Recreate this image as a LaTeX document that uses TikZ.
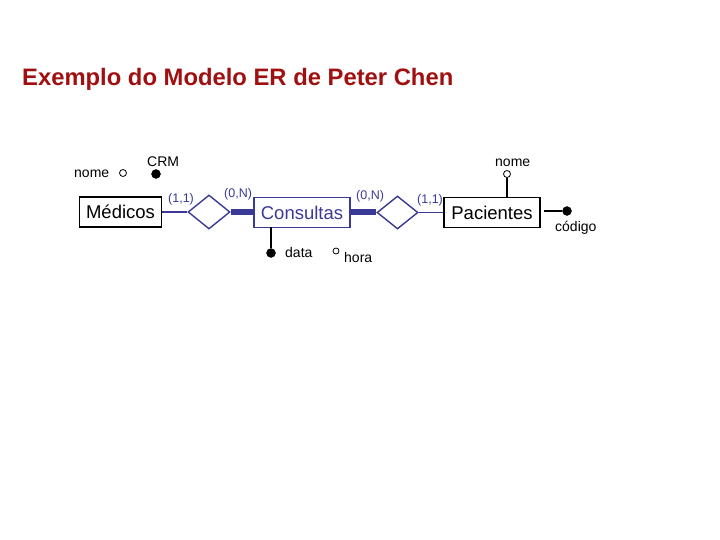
\documentclass[tikz,border=0pt]{standalone}
\usepackage{fontspec}
\setmainfont{Liberation Sans}
\usetikzlibrary{shapes.geometric}
\definecolor{erblue}{RGB}{58,58,150}
\definecolor{titlered}{RGB}{160,16,16}
\tikzset{
  entity/.style={draw, line width=1.1pt, rectangle, minimum height=30pt, inner sep=0pt, font=\fontsize{18.5}{20}\selectfont},
  rel/.style={draw=erblue, line width=1.4pt, diamond, minimum width=42pt, minimum height=34pt, inner sep=0pt},
  lbl/.style={inner sep=0pt, anchor=base west, font=\fontsize{14}{16}\selectfont},
  card/.style={inner sep=0pt, anchor=base west, text=erblue, font=\fontsize{12.5}{14}\selectfont},
  attrfull/.style={circle, fill=black, draw=black, minimum size=9pt, inner sep=0pt},
  attropen/.style={circle, draw=black, line width=0.8pt, fill=white, minimum size=7pt, inner sep=0pt},
  thinlink/.style={draw=erblue, line width=1.8pt},
  thicklink/.style={draw=erblue, line width=6pt},
  attrlink/.style={draw=black, line width=1.1pt}
}
\begin{document}
\begin{tikzpicture}[x=1pt,y=-1pt]
\useasboundingbox (0,0) rectangle (720,540);
\node[inner sep=0pt, anchor=base west, text=titlered, font=\fontsize{23.8}{26}\selectfont\bfseries] (title) at (22,86) {Exemplo do Modelo ER de Peter Chen};

\node[entity, minimum width=82pt] (med) at (120.5,212) {Médicos};
\node[entity, minimum width=96pt, draw=erblue, text=erblue] (cons) at (302,212.5) {Consultas};
\node[entity, minimum width=96pt] (pac) at (492,212.5) {Pacientes};

\node[rel] (d1) at (209,212) {};
\node[rel, minimum width=41pt, minimum height=33pt] (d2) at (397.5,212.5) {};

\draw[thinlink] (med.east) -- (d1.west);
\draw[thicklink] (d1.east) -- (d1.east -| cons.west);
\draw[thicklink] (cons.east) -- (d2.west);
\draw[thinlink] (d2.east) -- (pac.west);

\node[card] (c1) at (168,203) {(1,1)};
\node[card] (c2) at (224,198) {(0,N)};
\node[card] (c3) at (356,200) {(0,N)};
\node[card] (c4) at (417,204) {(1,1)};

% Medicos attributes
\node[attropen] (mnomeC) at (123,173) {};
\node[lbl] (mnome) at (74,178) {nome};
\node[attrfull] (crmC) at (156,174) {};
\node[lbl] (crm) at (147,167) {CRM};

% Consultas attributes
\node[attrfull] (dataC) at (271,253) {};
\coordinate (dataTop) at (271,227);
\draw[attrlink] (dataTop) -- (dataC);
\node[lbl] (data) at (285,258) {data};
\node[attropen, minimum size=6pt] (horaC) at (336,251) {};
\node[lbl] (hora) at (344,262) {hora};

% Pacientes attributes
\node[attropen] (pnomeC) at (507,174) {};
\coordinate (pnomeBot) at (507,197.5);
\draw[attrlink] (pnomeBot) -- (pnomeC);
\node[lbl] (pnome) at (495,167) {nome};
\node[attrfull] (codC) at (567,211) {};
\draw[attrlink, shorten <=3pt] (pac.east |- codC) -- (codC);
\node[lbl] (cod) at (555,231) {código};
\end{tikzpicture}
\end{document}
